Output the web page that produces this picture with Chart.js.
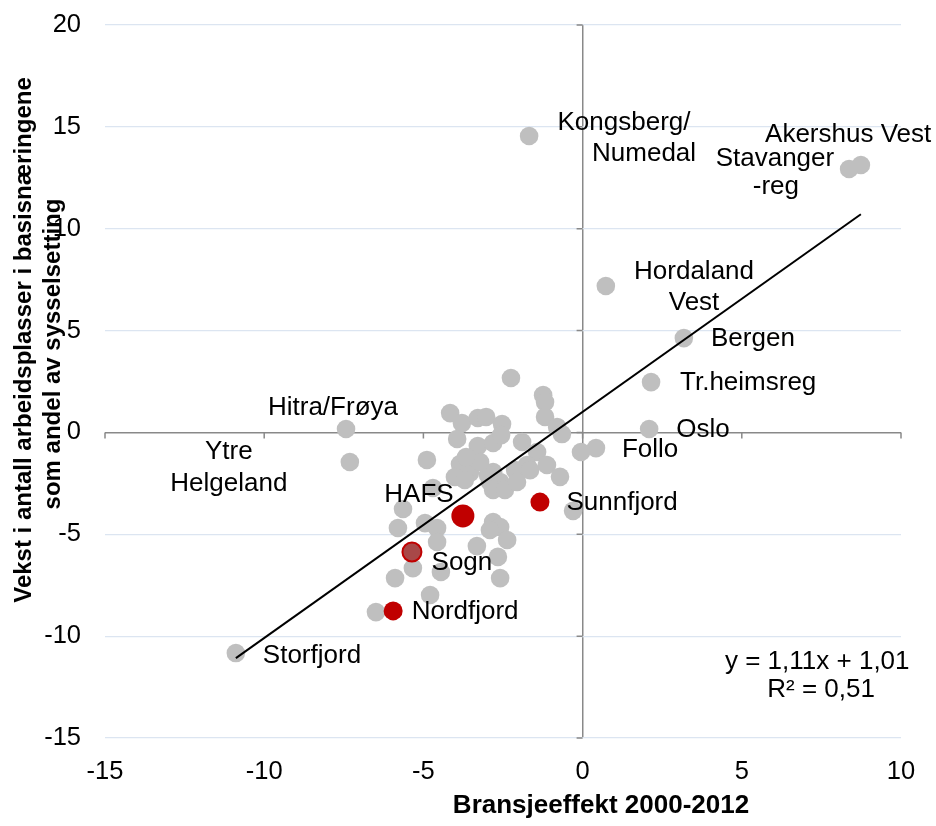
<!DOCTYPE html>
<html>
<head>
<meta charset="utf-8">
<script src="https://cdn.jsdelivr.net/npm/chart.js@4"></script>
<style>
  body { margin: 0; background: #fff; }
  canvas { display: block; }
</style>
</head>
<body>
<canvas id="chart" width="936" height="826"></canvas>
<script>
const xTicks = [-15, -10, -5, 0, 5, 10];
const yTicks = [-15, -10, -5, 0, 5, 10, 15, 20];

// other regions (grey)
const otherX = [
  -1.68, 8.74, 8.37, 0.73, 3.18, 2.15, 2.09, 0.42, -0.05, -7.43,
  -7.31, -10.89, -6.49, -0.30, -2.25, -1.24, -1.18, -1.18, -0.80, -0.65,
  -4.16, -3.79, -3.29, -3.03, -2.53, -3.94, -3.29, -2.81, -2.56, -1.90,
  -1.43, -1.12, -1.75, -2.12, -1.65, -0.71, -2.81, -4.89, -3.85, -3.54,
  -2.97, -4.70, -3.22, -2.91, -2.59, -2.81, -2.44, -2.06, -3.66, -5.64,
  -5.80, -4.95, -4.57, -4.57, -3.32, -2.81, -2.59, -2.91, -2.37, -2.66,
  -2.59, -5.33, -5.89, -4.45, -4.79, -4.01, -3.70,
];
const otherY = [
  14.55, 13.13, 12.93, 7.19, 4.63, 2.47, 0.17, -0.77, -0.96, 0.17,
  -1.45, -10.83, -8.82, -3.85, 2.67, 1.83, 1.49, 0.76, 0.27, -0.08,
  0.95, 0.46, 0.71, 0.76, 0.41, -0.32, -0.67, -0.52, -0.13, -0.47,
  -0.96, -1.60, -1.60, -1.85, -1.85, -2.18, -1.95, -1.35, -1.55, -1.99,
  -2.09, -2.73, -1.45, -2.43, -2.43, -2.82, -2.82, -2.43, -1.21, -3.76,
  -4.69, -4.45, -4.69, -5.38, -5.58, -4.40, -4.64, -4.79, -5.28, -6.11,
  -7.15, -6.66, -7.15, -6.85, -7.98, -2.19, -2.33,
];

// highlighted regions (red)
const redNames = ["Sunnfjord", "HAFS", "Sogn", "Nordfjord"];
const redX = [-1.34, -3.76, -5.36, -5.95];
const redY = [-3.42, -4.10, -5.87, -8.76];

const trendSlope = 1.11;
const trendIntercept = 1.01;

const xTitle = "Bransjeeffekt 2000-2012";
const yTitle = ["Vekst i antall arbeidsplasser i basisnæringene", "som andel av sysselsetting"];

// text placed on the plot, centre in axis units
const notes = [
  { text: "Kongsberg/", x: 1.30, y: 15.19 },
  { text: "Numedal", x: 1.93, y: 13.67 },
  { text: "Akershus Vest", x: 8.34, y: 14.60 },
  { text: "Stavanger", x: 6.04, y: 13.41 },
  { text: "-reg", x: 6.07, y: 12.04 },
  { text: "Hordaland", x: 3.50, y: 7.87 },
  { text: "Vest", x: 3.50, y: 6.35 },
  { text: "Bergen", x: 5.35, y: 4.59 },
  { text: "Tr.heimsreg", x: 5.20, y: 2.43 },
  { text: "Oslo", x: 3.78, y: 0.12 },
  { text: "Follo", x: 2.12, y: -0.86 },
  { text: "Hitra/Frøya", x: -7.84, y: 1.20 },
  { text: "Ytre", x: -11.11, y: -0.96 },
  { text: "Helgeland", x: -11.11, y: -2.53 },
  { text: "HAFS", x: -5.14, y: -3.06 },
  { text: "Sunnfjord", x: 1.24, y: -3.45 },
  { text: "Sogn", x: -3.79, y: -6.41 },
  { text: "Nordfjord", x: -3.69, y: -8.82 },
  { text: "Storfjord", x: -8.50, y: -10.98 },
  { text: "y = 1,11x + 1,01", x: 7.37, y: -11.27 },
  { text: "R² = 0,51", x: 7.49, y: -12.64 },
];

const axisGrey = "#898989";
const gridBlue = "#dce5f1";
const fontFamily = '"Liberation Sans", Arial, sans-serif';

Chart.defaults.font.family = fontFamily;
Chart.defaults.color = "#000";

const allX = otherX.concat(redX);
const trendFrom = Math.min(...allX);
const trendTo = Math.max(...allX);

const overlay = {
  id: "overlay",
  beforeDatasetsDraw(chart) {
    const { ctx, scales: { x, y } } = chart;
    const x0 = x.getPixelForValue(0);
    const y0 = y.getPixelForValue(0);
    ctx.save();
    ctx.strokeStyle = axisGrey;
    ctx.lineWidth = 1.5;
    ctx.beginPath();
    xTicks.forEach((v) => {
      const px = x.getPixelForValue(v);
      ctx.moveTo(px, y0);
      ctx.lineTo(px, y0 + 6);
    });
    yTicks.forEach((v) => {
      const py = y.getPixelForValue(v);
      ctx.moveTo(x0 - 6, py);
      ctx.lineTo(x0, py);
    });
    ctx.stroke();
    ctx.restore();
  },
  afterDraw(chart) {
    const { ctx, scales: { x, y } } = chart;
    ctx.save();
    ctx.fillStyle = "#000";
    ctx.textAlign = "center";
    ctx.textBaseline = "middle";

    ctx.font = "26px " + fontFamily;
    notes.forEach((n) => {
      ctx.fillText(n.text, x.getPixelForValue(n.x), y.getPixelForValue(n.y));
    });

    ctx.font = "bold 26px " + fontFamily;
    ctx.fillText(xTitle, 601, 806);

    // rotated y title, two lines
    ctx.font = "bold 24px " + fontFamily;
    ctx.save();
    ctx.translate(24, 340);
    ctx.rotate(-Math.PI / 2);
    ctx.fillText(yTitle[0], 0, 0);
    ctx.restore();
    ctx.translate(53, 354);
    ctx.rotate(-Math.PI / 2);
    ctx.fillText(yTitle[1], 0, 0);
    ctx.restore();
  },
};

new Chart(document.getElementById("chart"), {
  type: "scatter",
  data: {
    datasets: [
      {
        data: redX.map((v, i) => ({ x: v, y: redY[i] })),
        backgroundColor: redNames.map((n) => (n === "Sogn" ? "#a84848" : "#c00000")),
        borderColor: "#c00000",
        borderWidth: redNames.map((n) => (n === "Sogn" ? 2 : 0)),
        pointRadius: redNames.map((n) => (n === "HAFS" ? 11.5 : 9.5)),
        order: 0,
      },
      {
        type: "line",
        data: [
          { x: trendFrom, y: trendSlope * trendFrom + trendIntercept },
          { x: trendTo, y: trendSlope * trendTo + trendIntercept },
        ],
        borderColor: "#000",
        borderWidth: 2,
        pointRadius: 0,
        fill: false,
        order: 1,
      },
      {
        data: otherX.map((v, i) => ({ x: v, y: otherY[i] })),
        backgroundColor: "#bfbfbf",
        borderWidth: 0,
        pointRadius: 9.3,
        order: 2,
      },
    ],
  },
  options: {
    responsive: false,
    animation: false,
    layout: { padding: { left: 25, top: 25, right: 35, bottom: 0 } },
    plugins: {
      legend: { display: false },
      tooltip: { enabled: false },
    },
    scales: {
      x: {
        type: "linear",
        min: -15,
        max: 10,
        afterBuildTicks: (scale) => {
          scale.ticks = xTicks.map((v) => ({ value: v }));
        },
        afterFit: (scale) => {
          scale.height = 88;
        },
        border: { display: false },
        grid: {
          drawTicks: false,
          color: (c) => (c.tick && c.tick.value === 0 ? axisGrey : "rgba(0,0,0,0)"),
          lineWidth: (c) => (c.tick && c.tick.value === 0 ? 1.5 : 0),
        },
        ticks: {
          padding: 19,
          font: { size: 25.5 },
          color: "#000",
          callback: (v) => String(v),
        },
      },
      y: {
        type: "linear",
        min: -15,
        max: 20,
        afterBuildTicks: (scale) => {
          scale.ticks = yTicks.map((v) => ({ value: v }));
        },
        afterFit: (scale) => {
          scale.width = 80;
          scale.paddingTop = 0;
          scale.paddingBottom = 0;
        },
        border: { display: false },
        grid: {
          drawTicks: false,
          color: (c) => (c.tick && c.tick.value === 0 ? axisGrey : gridBlue),
          lineWidth: (c) => (c.tick && c.tick.value === 0 ? 1.5 : 1.2),
        },
        ticks: {
          padding: 24,
          font: { size: 25.5 },
          color: "#000",
          callback: (v) => String(v),
        },
      },
    },
  },
  plugins: [overlay],
});
</script>
</body>
</html>
